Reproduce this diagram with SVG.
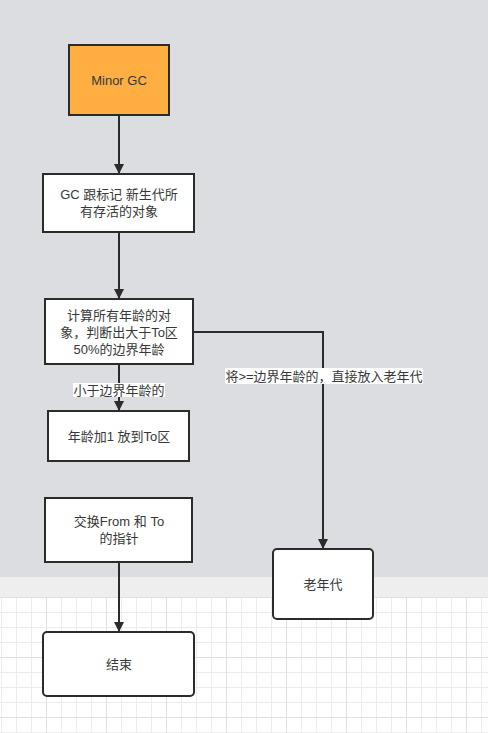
<svg xmlns="http://www.w3.org/2000/svg" width="488" height="733" viewBox="0 0 488 733">
<defs>
<style>
.box{fill:#ffffff;stroke:#2b2b2b;stroke-width:2}
.orange{fill:#ffae42}
.t{font-family:"Liberation Sans","Noto Sans CJK SC",sans-serif;font-size:13px;fill:#383838;text-anchor:middle}
.lbl{font-family:"Liberation Sans","Noto Sans CJK SC",sans-serif;font-size:13px;fill:#383838;text-anchor:middle}
.edge{fill:none;stroke:#2b2b2b;stroke-width:2}
.lblbg{fill:#ffffff}
</style>
<marker id="arr" viewBox="0 0 10 10" refX="10" refY="5" markerWidth="5" markerHeight="5" markerUnits="strokeWidth" orient="auto">
<path d="M0,0 L10,5 L0,10 Z" fill="#2b2b2b"/>
</marker>
<pattern id="grid" patternUnits="userSpaceOnUse" x="1" y="597" width="60" height="60">
<rect width="60" height="60" fill="#ffffff"/>
<path d="M0.5,0V60M15.5,0V60M30.5,0V60M0,15.5H60M0,30.5H60M0,45.5H60" stroke="#ececec" stroke-width="1"/>
<path d="M45.5,0V60M0,0.5H60" stroke="#e0e0e0" stroke-width="1"/>
</pattern>
</defs>
<rect x="0" y="0" width="488" height="577" fill="#dcdde1"/>
<rect x="0" y="577" width="488" height="20" fill="#eeeeee"/>
<rect x="0" y="597" width="488" height="136" fill="url(#grid)"/>

<g id="connectors">
<path class="edge" d="M119,116 V174" marker-end="url(#arr)"/>
<path class="edge" d="M119,233 V299" marker-end="url(#arr)"/>
<path class="edge" d="M119,365 V411" marker-end="url(#arr)"/>
<path class="edge" d="M194,332 H323 V549" marker-end="url(#arr)"/>
<path class="edge" d="M119,563 V632" marker-end="url(#arr)"/>
<rect class="lblbg" x="73" y="383" width="92" height="14"/>
<text class="lbl" x="119" y="394.5">小于边界年龄的</text>
<rect class="lblbg" x="225" y="368" width="198" height="16"/>
<text class="lbl" x="324" y="380.5">将&gt;=边界年龄的，直接放入老年代</text>
</g>

<g id="minor-gc">
<rect class="box orange" x="69" y="45" width="100" height="70"/>
<text class="t" x="119" y="85">Minor GC</text>
</g>
<g id="mark">
<rect class="box" x="43" y="174" width="151" height="58"/>
<text class="t" x="119" y="199">GC 跟标记 新生代所</text>
<text class="t" x="119" y="216">有存活的对象</text>
</g>
<g id="compute">
<rect class="box" x="45" y="299" width="148" height="65"/>
<text class="t" x="119" y="320">计算所有年龄的对</text>
<text class="t" x="119" y="337">象，判断出大于To区</text>
<text class="t" x="119" y="354">50%的边界年龄</text>
</g>
<g id="age-plus">
<rect class="box" x="48" y="411" width="141" height="50"/>
<text class="t" x="119" y="441">年龄加1 放到To区</text>
</g>
<g id="swap">
<rect class="box" x="45" y="498" width="147" height="64"/>
<text class="t" x="119" y="526">交换From 和 To</text>
<text class="t" x="119" y="543">的指针</text>
</g>
<g id="old-gen">
<rect class="box" x="273" y="549" width="100" height="70" rx="4"/>
<text class="t" x="323" y="589">老年代</text>
</g>
<g id="end">
<rect class="box" x="43" y="632" width="151" height="64" rx="4"/>
<text class="t" x="119" y="669">结束</text>
</g>
</svg>
